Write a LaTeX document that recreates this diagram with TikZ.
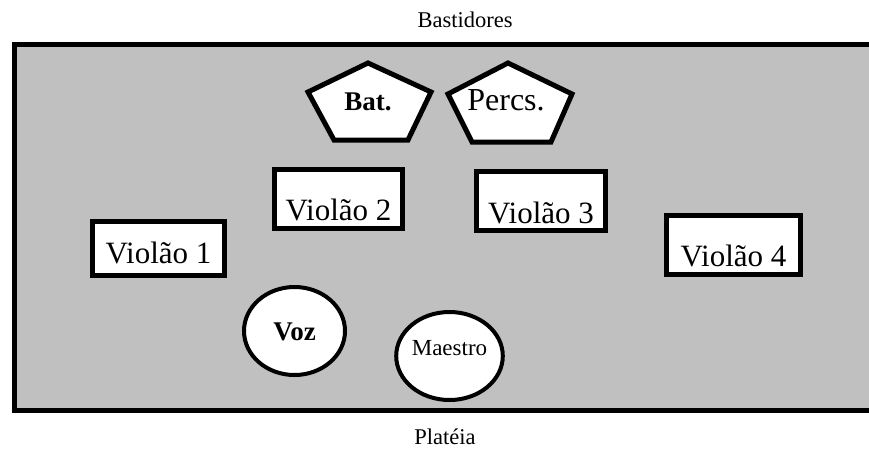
\documentclass[tikz,border=0pt]{standalone}
\usepackage{fontspec}
\setmainfont{Liberation Serif}
\usetikzlibrary{shapes.geometric}
\definecolor{stagegray}{HTML}{C0C0C0}

\tikzset{
    violbox/.style={draw, line width=5pt, fill=white, rectangle, inner sep=0pt,
        anchor=base, font=\fontsize{31}{36}\selectfont},
    seat/.style={draw, line width=4pt, fill=white, ellipse, inner sep=0pt,
        minimum width=101pt, minimum height=88pt},
    penta/.style={draw, line width=5pt, fill=white, line join=miter},
    sidelabel/.style={anchor=base, font=\fontsize{22.5}{26}\selectfont}
}

\begin{document}
\begin{tikzpicture}[x=1pt, y=-1pt]
    \useasboundingbox (0,0) rectangle (869,450);

    % Stage (open to the right)
    \draw[line width=5pt, fill=stagegray] (880,44) -- (14.5,44) -- (14.5,410) -- (880,410);

    % Backstage and audience labels
    \node[sidelabel] (bast) at (465,27) {Bastidores};
    \node[sidelabel] (plat) at (445,444) {Platéia};

    % Drums and percussion
    \draw[penta] (368,63) -- (431,92) -- (408,140) -- (334,140) -- (308,92) -- cycle;
    \node[anchor=base, font=\bfseries\fontsize{27}{30}\selectfont] (bat) at (368,110) {Bat.};

    \draw[penta] (508,63) -- (572,94) -- (551,142) -- (472,142) -- (448,94) -- cycle;
    \node[anchor=base, font=\fontsize{32}{36}\selectfont] (percs) at (506,110) {Percs.};

    % Guitars
    \node[violbox, minimum width=132pt, text height=41.5pt, text depth=12.5pt] (v1) at (158.5,263) {Violão 1};
    \node[violbox, minimum width=128pt, text height=50.5pt, text depth=8.5pt] (v2) at (338.5,220) {Violão 2};
    \node[violbox, minimum width=129pt, text height=51.5pt, text depth=7.5pt] (v3) at (541,223) {Violão 3};
    \node[violbox, minimum width=134pt, text height=50.5pt, text depth=8.5pt] (v4) at (733.5,266) {Violão 4};

    % Voice and conductor
    \node[seat, text height=18pt, text depth=0pt, font=\bfseries\fontsize{27}{30}\selectfont] (voz) at (294.5,331) {Voz};
    \node[seat, text height=14pt, text depth=16pt, font=\fontsize{23}{26}\selectfont] (maestro) at (449.5,356) {Maestro};
\end{tikzpicture}
\end{document}
